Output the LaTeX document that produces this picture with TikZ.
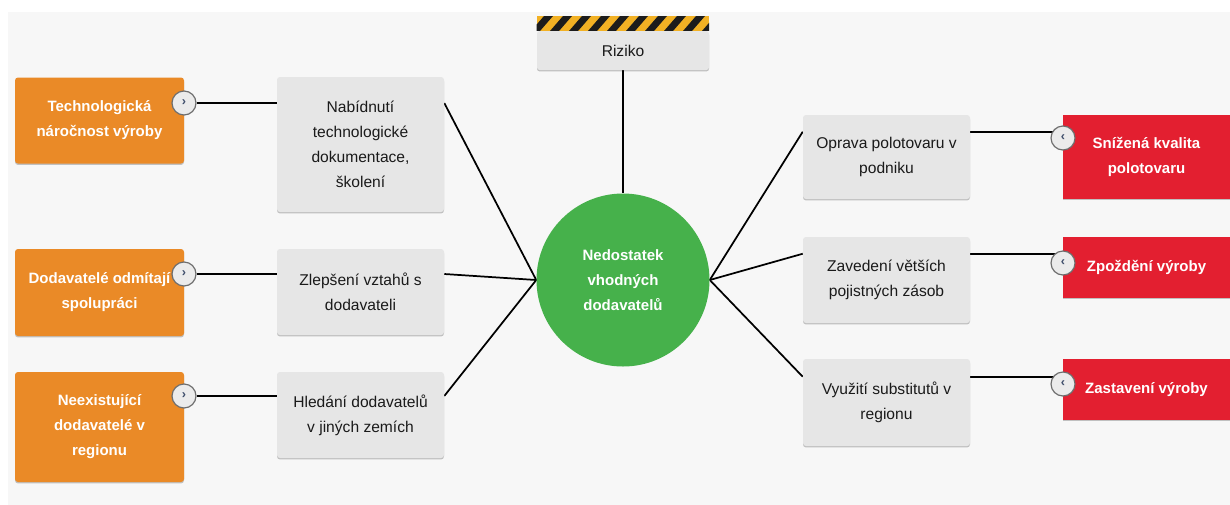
\documentclass[tikz,border=0pt]{standalone}
\usepackage{fontspec}
\setmainfont{Liberation Sans}
\usetikzlibrary{shadows}

\definecolor{panelgray}{HTML}{F7F7F7}
\definecolor{boxgray}{HTML}{E6E6E6}
\definecolor{causeorange}{HTML}{EA8A27}
\definecolor{effectred}{HTML}{E31F30}
\definecolor{coregreen}{HTML}{46B14B}
\definecolor{hazardyellow}{HTML}{F2B124}
\definecolor{hazardblack}{HTML}{1C1C1C}
\definecolor{textdark}{HTML}{1A1A1A}
\definecolor{togglefill}{HTML}{EBEBEB}
\definecolor{toggleedge}{HTML}{6E6E6E}
\definecolor{toggleglyph}{HTML}{3F4E6B}

\pgfdeclarelayer{panel}
\pgfdeclarelayer{wires}
\pgfsetlayers{panel,wires,main}

\begin{document}
\begin{tikzpicture}[x=0.75pt,y=-0.75pt,
  every node/.style={align=center, inner sep=0pt},
  txt/.style={font=\fontsize{11.7}{18.75}\selectfont},
  softshadow/.style={drop shadow={shadow xshift=0pt, shadow yshift=-1.1pt, opacity=0.22, fill=black}},
  measurebox/.style={txt, text=textdark, fill=boxgray, rounded corners=2.25pt,
    minimum width=125.25pt, softshadow},
  causebox/.style={font=\fontsize{11.25}{18.75}\selectfont\bfseries, text=white,
    fill=causeorange, rounded corners=2.25pt, minimum width=126.75pt, softshadow},
  effectbox/.style={font=\fontsize{11.25}{18.75}\selectfont\bfseries, text=white,
    fill=effectred, minimum width=125.25pt, softshadow},
  corenode/.style={circle, fill=coregreen, minimum size=129.75pt, text=white,
    font=\fontsize{11.25}{18.75}\selectfont\bfseries},
  riskbox/.style={txt, text=textdark, fill=boxgray, minimum width=129pt,
    minimum height=29.25pt, rounded corners=2pt, softshadow},
  togglebtn/.style={circle, minimum size=18pt, fill=togglefill, draw=toggleedge,
    line width=0.9pt, text=toggleglyph, font=\fontsize{9.5}{9.5}\selectfont\bfseries},
  conn/.style={draw=black, line width=1.3pt}
]
\useasboundingbox (0,0) rectangle (1230,504);
\begin{pgfonlayer}{panel}
  \fill[white] (0,0) rectangle (1230,504);
  \fill[panelgray] (8,12) rectangle (1232,506);
\end{pgfonlayer}

% central problem
\node[corenode] (c) at (623,280) {Nedostatek\\vhodných\\dodavatelů};

% risk header with hazard stripes
\node[riskbox] (riz) at (623,50.5) {\raisebox{-2pt}{Riziko}};
\begin{scope}
  \clip (riz.north west) rectangle (709,16);
  \fill[hazardyellow] (riz.north west) rectangle (709,16);
  \foreach \k in {0,...,10} {
    \fill[hazardblack] (537+\k*19-6,31) -- ++(9,0) -- ++(13,-15) -- ++(-9,0) -- cycle;
  }
\end{scope}

% causes (left)
\node[causebox, minimum height=64.5pt]  (o1) at (99.5,120.5) {Technologická\\náročnost výroby};
\node[causebox, minimum height=65.25pt] (o2) at (99.5,292.5) {Dodavatelé odmítají\\spolupráci};
\node[causebox, minimum height=82.5pt]  (o3) at (99.5,427)   {Neexistující\\dodavatelé v\\regionu};

% measures against causes
\node[measurebox, minimum height=101.25pt] (g1) at (360.5,144.5) {Nabídnutí\\technologické\\dokumentace,\\školení};
\node[measurebox, minimum height=64.5pt]   (g2) at (360.5,292)   {Zlepšení vztahů s\\dodavateli};
\node[measurebox, minimum height=64.5pt]   (g3) at (360.5,415)   {Hledání dodavatelů\\v jiných zemích};

% measures against effects
\node[measurebox, minimum height=63pt]    (r1) at (886.5,157)   {Oprava polotovaru v\\podniku};
\node[measurebox, minimum height=64.5pt]  (r2) at (886.5,280)   {Zavedení větších\\pojistných zásob};
\node[measurebox, minimum height=65.25pt] (r3) at (886.5,402.5) {Využití substitutů v\\regionu};

% effects (right)
\node[effectbox, minimum height=63pt]    (d1) at (1146.5,157)   {Snížená kvalita\\polotovaru};
\node[effectbox, minimum height=45.75pt] (d2) at (1146.5,267.5) {Zpoždění výroby};
\node[effectbox, minimum height=45.75pt] (d3) at (1146.5,389.5) {Zastavení výroby};

% expand/collapse buttons
\node[togglebtn] (ot1) at (184,103) {›};
\node[togglebtn] (ot2) at (184,274) {›};
\node[togglebtn] (ot3) at (184,396) {›};
\node[togglebtn] (dt1) at (1063,138) {‹};
\node[togglebtn] (dt2) at (1063,263) {‹};
\node[togglebtn] (dt3) at (1063,384) {‹};

% attachment points on the right-hand measures
\coordinate (rin1)  at ([yshift=-12.75pt]r1.north west);
\coordinate (rin2)  at ([yshift=-12.75pt]r2.north west);
\coordinate (rin3)  at ([yshift=-13.5pt]r3.north west);
\coordinate (rout1) at ([yshift=-12.75pt]r1.north east);
\coordinate (rout2) at ([yshift=-12.75pt]r2.north east);
\coordinate (rout3) at ([yshift=-13.5pt]r3.north east);

\begin{pgfonlayer}{wires}
  \draw[conn] (riz.south) -- (c.north);
  \draw[conn] (ot1) -- (ot1 -| g1.west);
  \draw[conn] (ot2) -- (ot2 -| g2.west);
  \draw[conn] (ot3) -- (ot3 -| g3.west);
  \draw[conn] (ot1 -| g1.east) -- (c.west);
  \draw[conn] (ot2 -| g2.east) -- (c.west);
  \draw[conn] (ot3 -| g3.east) -- (c.west);
  \draw[conn] (c.east) -- (rin1);
  \draw[conn] (c.east) -- (rin2);
  \draw[conn] (c.east) -- (rin3);
  \draw[conn] (rout1) -- (rout1 -| dt1.center);
  \draw[conn] (rout2) -- (rout2 -| dt2.center);
  \draw[conn] (rout3) -- (rout3 -| dt3.center);
\end{pgfonlayer}
\end{tikzpicture}
\end{document}
